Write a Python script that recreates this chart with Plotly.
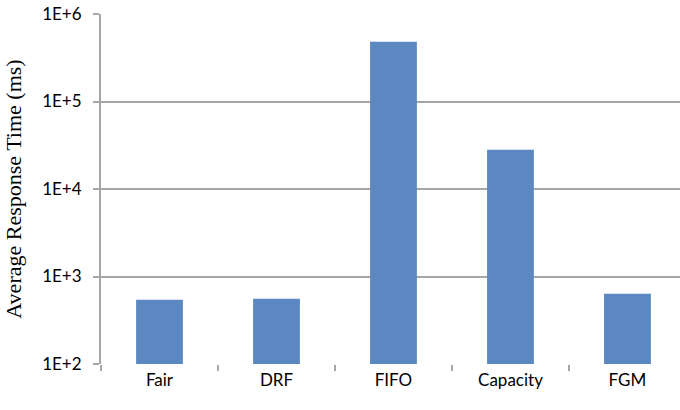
import plotly.graph_objects as go

schedulers = ["Fair", "DRF", "FIFO", "Capacity", "FGM"]
avg_response_ms = [542, 556, 483000, 28100, 634]
y_tick_values = [100, 1000, 10000, 100000, 1000000]
y_tick_labels = ["1E+2", "1E+3", "1E+4", "1E+5", "1E+6"]

grid_color = "#a6a6a6"
label_font = dict(family="Lato, 'Open Sans', sans-serif", size=17, color="#000000")

fig = go.Figure(
    go.Bar(
        x=schedulers,
        y=avg_response_ms,
        marker=dict(color="#5b88c0", line=dict(width=0)),
        width=0.4,
    )
)

fig.update_layout(
    width=680,
    height=410,
    margin=dict(l=101, r=0, t=14, b=46),
    plot_bgcolor="white",
    paper_bgcolor="white",
    showlegend=False,
)

fig.update_xaxes(
    type="category",
    range=[-0.5, 4.449],
    showline=False,
    showgrid=False,
    ticks="outside",
    tickson="boundaries",
    ticklen=6,
    tickwidth=2,
    tickcolor=grid_color,
    tickfont=label_font,
    ticklabelstandoff=4,
)

fig.update_yaxes(
    type="log",
    range=[2, 6],
    tickvals=y_tick_values,
    ticktext=y_tick_labels,
    showline=True,
    linecolor=grid_color,
    linewidth=2,
    showgrid=True,
    gridcolor=grid_color,
    gridwidth=1.5,
    zeroline=False,
    ticks="outside",
    ticklen=6,
    tickwidth=2,
    tickcolor=grid_color,
    tickfont=label_font,
    ticklabelstandoff=8,
    title=dict(
        text="Average Response Time (ms)",
        font=dict(family="'Liberation Serif', 'Times New Roman', serif", size=22, color="#000000"),
        standoff=14,
    ),
)

fig.write_html("out.html")
